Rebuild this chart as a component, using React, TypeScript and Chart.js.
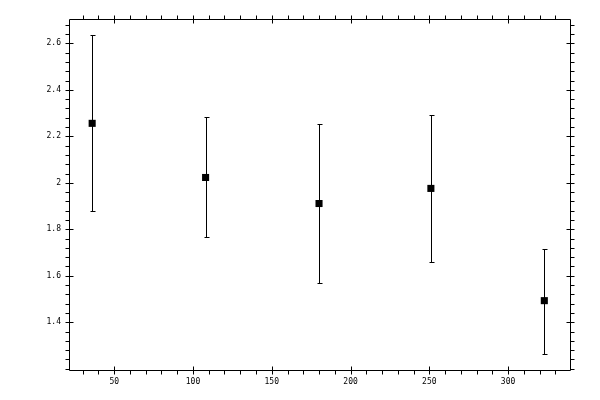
import { useEffect, useRef } from 'react';
import { Chart, Plugin, registerables } from 'chart.js';

const xValues = [36, 108, 180, 251, 323];
const yValues = [2.256, 2.023, 1.911, 1.976, 1.493];
const yHigh = [2.635, 2.282, 2.252, 2.29, 1.716];
const yLow = [1.877, 1.765, 1.571, 1.661, 1.265];

const xTicks = [50, 100, 150, 200, 250, 300];
const yTicks = [1.4, 1.6, 1.8, 2, 2.2, 2.4, 2.6];
const xMinorStep = 10;
const yMinorStep = 0.04;

const FONT = { family: '"DejaVu Sans Mono", monospace', size: 8 };

// vertical error bars with small caps
const errorBars: Plugin<'scatter'> = {
    id: 'errorBars',
    beforeDatasetsDraw(chart) {
        const { ctx, scales: { x, y } } = chart;
        ctx.save();
        ctx.strokeStyle = '#000';
        ctx.lineWidth = 1;
        xValues.forEach((v, i) => {
            const px = Math.round(x.getPixelForValue(v)) + 0.5;
            const top = Math.round(y.getPixelForValue(yHigh[i])) + 0.5;
            const bot = Math.round(y.getPixelForValue(yLow[i])) + 0.5;
            ctx.beginPath();
            ctx.moveTo(px, top);
            ctx.lineTo(px, bot);
            ctx.moveTo(px - 2, top);
            ctx.lineTo(px + 3, top);
            ctx.moveTo(px - 2, bot);
            ctx.lineTo(px + 3, bot);
            ctx.stroke();
        });
        ctx.restore();
    }
};

// frame plus major/minor tick marks on all four sides
const frameTicks: Plugin<'scatter'> = {
    id: 'frameTicks',
    afterDraw(chart) {
        const { ctx, chartArea: a, scales: { x, y } } = chart;
        const L = Math.round(a.left) + 0.5;
        const R = Math.round(a.right) + 0.5;
        const T = Math.round(a.top) + 0.5;
        const B = Math.round(a.bottom) + 0.5;
        ctx.save();
        ctx.strokeStyle = '#000';
        ctx.lineWidth = 1;
        ctx.beginPath();
        ctx.rect(L, T, R - L, B - T);

        const xMin = x.min, xMax = x.max;
        for (let v = Math.ceil(xMin / xMinorStep) * xMinorStep; v <= xMax; v += xMinorStep) {
            const px = Math.round(x.getPixelForValue(v)) + 0.5;
            const major = xTicks.some(t => Math.abs(t - v) < 1e-6);
            ctx.moveTo(px, B + 4);
            ctx.lineTo(px, major ? B - 4 : B);
            ctx.moveTo(px, T - 4);
            ctx.lineTo(px, major ? T + 4 : T);
        }
        const yMin = y.min, yMax = y.max;
        for (let k = Math.ceil(yMin / yMinorStep - 1e-6); k * yMinorStep <= yMax; k++) {
            const v = k * yMinorStep;
            const py = Math.round(y.getPixelForValue(v)) + 0.5;
            const major = yTicks.some(t => Math.abs(t - v) < 1e-6);
            ctx.moveTo(L - 4, py);
            ctx.lineTo(major ? L + 4 : L, py);
            ctx.moveTo(R + 4, py);
            ctx.lineTo(major ? R - 4 : R, py);
        }
        ctx.stroke();
        ctx.restore();
    }
};

export default function App() {
    const chartEl = useRef<HTMLCanvasElement>(null);

    useEffect(() => {
        Chart.register(...registerables);
        const data = {
            datasets: [{
                data: xValues.map((v, i) => ({ x: v, y: yValues[i] })),
                pointStyle: 'rect' as const,
                pointRadius: 5,
                pointBorderWidth: 0,
                backgroundColor: '#000',
                borderColor: '#000',
                showLine: false,
            }]
        };

        const myChart = new Chart(chartEl.current as HTMLCanvasElement, {
            type: 'scatter',
            data,
            options: {
                animation: false,
                responsive: true,
                maintainAspectRatio: false,
                layout: { padding: { top: 19, right: 30, left: 0, bottom: 0 } },
                plugins: { legend: { display: false }, tooltip: { enabled: false } },
                scales: {
                    x: {
                        type: 'linear',
                        min: 21.3,
                        max: 339.3,
                        grid: { display: false, drawTicks: false },
                        border: { display: false },
                        afterBuildTicks: (s) => { s.ticks = xTicks.map(v => ({ value: v })); },
                        afterFit: (s) => { s.height = 30; },
                        ticks: { color: '#000', font: FONT, padding: 7, maxRotation: 0, callback: (v) => String(v) }
                    },
                    y: {
                        type: 'linear',
                        min: 1.1946,
                        max: 2.705,
                        grid: { display: false, drawTicks: false },
                        border: { display: false },
                        afterBuildTicks: (s) => { s.ticks = yTicks.map(v => ({ value: v })); },
                        afterFit: (s) => { s.width = 69; },
                        ticks: { color: '#000', font: FONT, padding: 8, callback: (v) => String(v) }
                    }
                }
            },
            plugins: [errorBars, frameTicks]
        });

        return () => {
            myChart.destroy();
        };
    }, []);

    return (
        <div style={{ position: 'fixed', left: 0, top: 0, width: 600, height: 400, background: '#fff' }}>
            <canvas ref={chartEl}></canvas>
        </div>
    );
}
